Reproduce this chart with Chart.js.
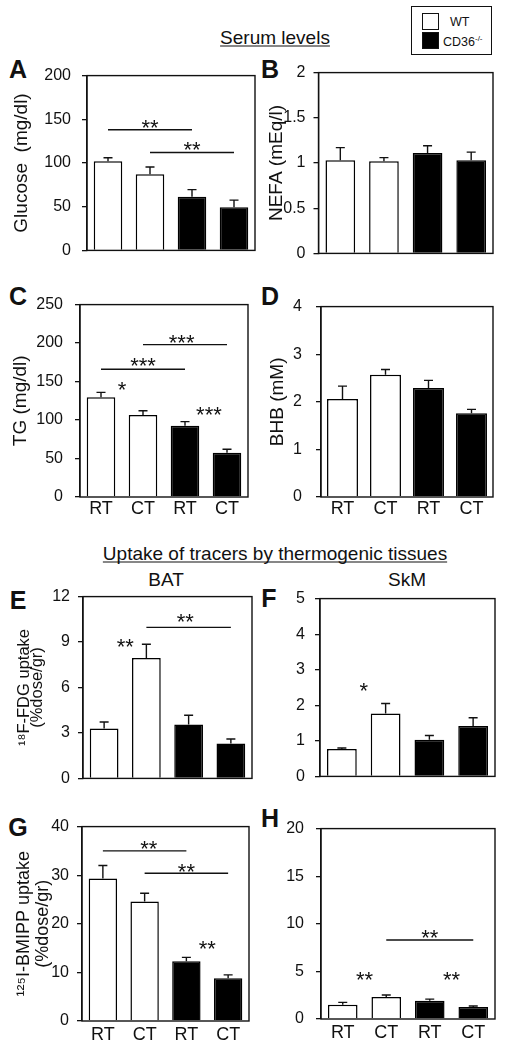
<!DOCTYPE html>
<html>
<head>
<meta charset="utf-8">
<script src="https://cdn.jsdelivr.net/npm/chart.js@4.4.1/dist/chart.umd.min.js"></script>
<style>
  body { margin: 0; background: #fff; }
  #fig { position: relative; width: 506px; height: 1050px; overflow: hidden;
         font-family: 'Liberation Sans', Arial, sans-serif; color: #111; }
  #fig canvas { position: absolute; }
  .lbl { position: absolute; transform: translate(-50%, -50%); line-height: 1; white-space: nowrap; }
  .letter { font-weight: bold; font-size: 25px; }
  .head { font-size: 19px; text-decoration: underline; text-decoration-skip-ink: none;
          text-underline-offset: 2px; text-decoration-thickness: 1.3px; }
  .sub { font-size: 19px; }
  .sq { position: absolute; width: 17px; height: 17px; box-sizing: border-box; border: 1.5px solid #111; }
  .leg { position: absolute; font-size: 12.5px; line-height: 1; transform: translateY(-50%); white-space: nowrap; }
  .leg sup { font-size: 8px; vertical-align: 5px; }
</style>
</head>
<body>
<div id="fig">
  <div class="lbl head" style="left:275px; top:37px;">Serum levels</div>
  <div class="lbl head" style="left:275px; top:553px;">Uptake of tracers by thermogenic tissues</div>
  <div class="lbl sub" style="left:166px; top:579px;">BAT</div>
  <div class="lbl sub" style="left:407px; top:579px;">SkM</div>

  <div class="lbl letter" style="left:18px; top:69px;">A</div>
  <div class="lbl letter" style="left:270px; top:69px;">B</div>
  <div class="lbl letter" style="left:18px; top:296px;">C</div>
  <div class="lbl letter" style="left:270px; top:296px;">D</div>
  <div class="lbl letter" style="left:18px; top:600px;">E</div>
  <div class="lbl letter" style="left:269px; top:598px;">F</div>
  <div class="lbl letter" style="left:18px; top:827px;">G</div>
  <div class="lbl letter" style="left:270px; top:818px;">H</div>

  <div style="position:absolute; left:411px; top:6px; width:81px; height:49px; box-sizing:border-box; border:1.5px solid #111;"></div>
  <div class="sq" style="left:422px; top:13px; background:#fff;"></div>
  <div class="sq" style="left:422px; top:32px; background:#000;"></div>
  <div class="leg" style="left:450px; top:22px;">WT</div>
  <div class="leg" style="left:443px; top:42px;">CD36<sup>-/-</sup></div>
</div>

<script>
// --- DATA ---
const groups = ["RT", "CT", "RT", "CT"];
const genotypeFill = ["#ffffff", "#ffffff", "#000000", "#000000"];

const glucose = [102, 87, 61.5, 49.5];
const glucoseSem = [4, 8.5, 8, 8];
const nefa = [1.03, 1.02, 1.11, 1.03];
const nefaSem = [0.14, 0.04, 0.08, 0.09];
const tg = [129.5, 106.5, 92.5, 57.5];
const tgSem = [6.5, 5.5, 5.5, 4.5];
const bhb = [2.06, 2.57, 2.29, 1.76];
const bhbSem = [0.27, 0.11, 0.16, 0.08];
const fdgBat = [3.3, 7.95, 3.55, 2.3];
const fdgBatSem = [0.42, 0.9, 0.62, 0.3];
const fdgSkm = [0.77, 1.77, 1.03, 1.42];
const fdgSkmSem = [0.03, 0.28, 0.12, 0.23];
const bmippBat = [29.3, 24.6, 12.3, 8.8];
const bmippBatSem = [2.7, 1.7, 0.8, 0.7];
const bmippSkm = [1.5, 2.32, 1.92, 1.26];
const bmippSkmSem = [0.25, 0.2, 0.17, 0.1];

// significance bars: [from group, to group, value]; stars: [group position, value, text]
const glucoseLines = [[0, 2, 138], [1, 3, 112]];
const glucoseStars = [[1, 146.5, "**"], [2, 121.5, "**"]];
const tgLines = [[1, 3, 198], [0, 2, 166]];
const tgStars = [[1.92, 207, "***"], [1, 177.5, "***"], [0.5, 146.5, "*"], [2.57, 113.5, "***"]];
const fdgBatLines = [[1, 3, 9.97]];
const fdgBatStars = [[0.5, 9.06, "**"], [1.92, 10.68, "**"]];
const fdgSkmStars = [[0.5, 2.56, "*"]];
const bmippBatLines = [[0, 2, 35], [1, 3, 30.4]];
const bmippBatStars = [[1.1, 36.6, "**"], [2, 31.8, "**"], [2.5, 15.9, "**"]];
const bmippSkmLines = [[1, 3, 8.3]];
const bmippSkmStars = [[2, 9.05, "**"], [0.5, 4.7, "**"], [2.5, 4.7, "**"]];

// --- CHARTS ---
const FONT = "'Liberation Sans', Arial, sans-serif";
const INK = "#111";
Chart.defaults.font.family = FONT;
Chart.defaults.color = INK;
const fig = document.getElementById("fig");

// frame, error bars and significance marks
const deco = {
    id: "deco",
    afterDatasetsDraw(chart, args, o) {
        const { ctx, chartArea: a, scales: { x, y } } = chart;
        const vals = chart.data.datasets[0].data;
        ctx.save();
        ctx.strokeStyle = INK;
        ctx.fillStyle = INK;
        ctx.lineWidth = 1.4;

        chart.getDatasetMeta(0).data.forEach((bar, i) => {
            const y0 = y.getPixelForValue(vals[i]);
            const y1 = y.getPixelForValue(vals[i] + o.err[i]);
            ctx.beginPath();
            ctx.moveTo(bar.x, y0);
            ctx.lineTo(bar.x, y1);
            ctx.moveTo(bar.x - 4.5, y1);
            ctx.lineTo(bar.x + 4.5, y1);
            ctx.stroke();
        });

        ctx.strokeRect(a.left, a.top, a.width, a.height);

        (o.lines || []).forEach(([i, j, v]) => {
            const py = y.getPixelForValue(v);
            ctx.beginPath();
            ctx.moveTo(x.getPixelForValue(i), py);
            ctx.lineTo(x.getPixelForValue(j), py);
            ctx.stroke();
        });

        ctx.font = "22px " + FONT;
        ctx.textAlign = "center";
        ctx.textBaseline = "alphabetic";
        (o.stars || []).forEach(([i, v, s]) => {
            ctx.fillText(s, x.getPixelForValue(i), y.getPixelForValue(v) + 0.57 * 22);
        });
        ctx.restore();
    }
};

function panel(g, mean, sem, lines, stars) {
    const left = g.col === 0 ? 0 : 258;
    const width = g.col === 0 ? g.r + 6 : 506 - left;
    const padTop = 12;
    const labelled = g.xpad != null;
    const axisH = labelled ? 30 : 2;
    const height = padTop + (g.b - g.t) + axisH;

    const cv = document.createElement("canvas");
    cv.width = width;
    cv.height = height;
    cv.style.left = left + "px";
    cv.style.top = (g.t - padTop) + "px";
    fig.appendChild(cv);

    const tSize = g.tSize || 19, tLh = g.tLh || 1.2;
    const title = g.title
        ? { display: true, text: g.title, color: INK, font: { size: tSize, lineHeight: tLh },
            padding: { top: g.tx - left - tSize * tLh / 2, bottom: 0 } }
        : { display: false };

    new Chart(cv, {
        type: "bar",
        data: {
            labels: groups,
            datasets: [{
                data: mean,
                backgroundColor: genotypeFill,
                borderColor: "#000",
                borderWidth: 1.5,
                barPercentage: g.bar || 0.68,
                categoryPercentage: 1
            }]
        },
        options: {
            responsive: false,
            animation: false,
            layout: { padding: { top: padTop, right: width - (g.r - left), left: 0, bottom: 0 } },
            plugins: {
                legend: { display: false },
                tooltip: { enabled: false },
                deco: { err: sem, lines: lines, stars: stars }
            },
            scales: {
                x: {
                    grid: { display: false, drawTicks: false },
                    border: { display: false },
                    ticks: { display: labelled, padding: g.xpad || 0, color: INK, font: { size: 18 } },
                    afterFit: s => { s.height = axisH; }
                },
                y: {
                    min: 0, max: g.max,
                    ticks: { stepSize: g.step, padding: g.tpad, color: INK, font: { size: 16 },
                             callback: v => String(+v.toFixed(2)) },
                    grid: { drawOnChartArea: false, drawTicks: true, tickLength: 5, color: INK, lineWidth: 1.3 },
                    border: { display: true, color: INK, width: 1.3 },
                    title: title,
                    afterFit: s => { s.width = g.l - left; }
                }
            }
        },
        plugins: [deco]
    });
}

// A
panel({ col: 0, l: 87, t: 67, r: 255, b: 269, max: 200, step: 50, tpad: 11,
        title: "Glucose  (mg/dl)", tx: 21.5 }, glucose, glucoseSem, glucoseLines, glucoseStars);
// B
panel({ col: 1, l: 318.5, t: 67, r: 493, b: 269, max: 2, step: 0.5, tpad: 8,
        title: "NEFA (mEq/l)", tx: 276.5 }, nefa, nefaSem, [], []);
// C
panel({ col: 0, l: 80, t: 295, r: 248, b: 497, max: 250, step: 50, tpad: 12, xpad: 1,
        title: "TG (mg/dl)", tx: 21 }, tg, tgSem, tgLines, tgStars);
// D
panel({ col: 1, l: 321, t: 295, r: 493, b: 497, max: 4, step: 1, tpad: 14, xpad: 1, bar: 0.72,
        title: "BHB (mM)", tx: 278 }, bhb, bhbSem, [], []);
// E
panel({ col: 0, l: 83, t: 591, r: 252, b: 794, max: 12, step: 3, tpad: 8,
        title: ["\u00b9\u2078F-FDG uptake", "(%dose/gr)"], tx: 24.5, tSize: 16.5, tLh: 0.76 },
      fdgBat, fdgBatSem, fdgBatLines, fdgBatStars);
// F
panel({ col: 1, l: 320, t: 591, r: 495, b: 794, max: 5, step: 1, tpad: 10 },
      fdgSkm, fdgSkmSem, [], fdgSkmStars);
// G
panel({ col: 0, l: 82, t: 821, r: 249, b: 1021, max: 40, step: 10, tpad: 8, xpad: 3,
        title: ["\u00b9\u00b2\u2075I-BMIPP uptake", "(%dose/gr)"], tx: 24, tSize: 18, tLh: 1.03 },
      bmippBat, bmippBatSem, bmippBatLines, bmippBatStars);
// H
panel({ col: 1, l: 321, t: 819, r: 495, b: 1019, max: 20, step: 5, tpad: 12, xpad: 3 },
      bmippSkm, bmippSkmSem, bmippSkmLines, bmippSkmStars);
</script>
</body>
</html>
